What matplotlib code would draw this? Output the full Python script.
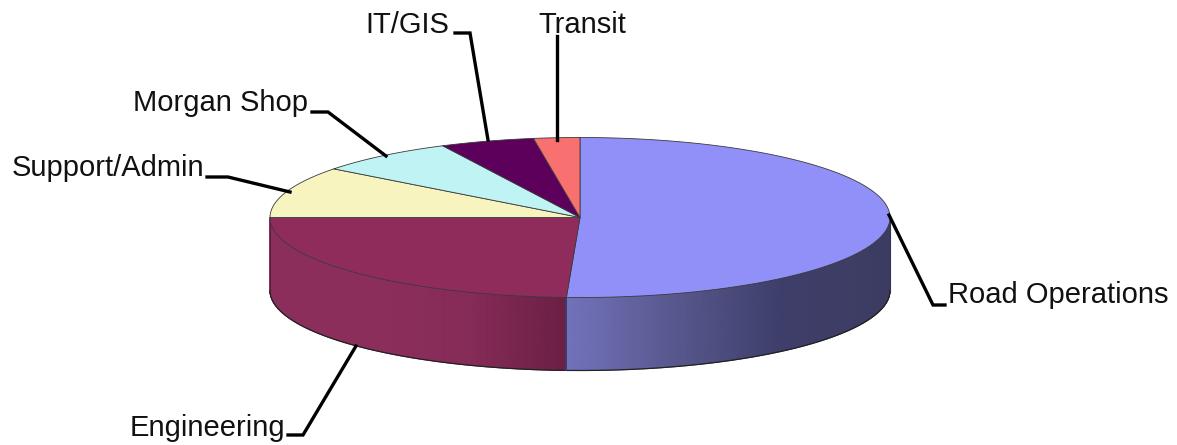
import numpy as np
import matplotlib
matplotlib.use("Agg")
import matplotlib.pyplot as plt
from matplotlib.colors import LinearSegmentedColormap

labels = ["Road Operations", "Engineering", "Support/Admin", "Morgan Shop", "IT/GIS", "Transit"]
values = [50.7, 24.3, 10.4, 7.3, 4.9, 2.4]
top_colors = ["#9090f8", "#902c5c", "#f8f4c0", "#c0f4f4", "#5c005c", "#f87070"]

# pie geometry, in pixels of the picture
cx, cy = 580, 217.5
rx, ry = 310, 80
depth = 73


def ell(deg):
    # degrees clockwise from 12 o'clock
    t = np.radians(deg)
    return cx + rx * np.sin(t), cy - ry * np.cos(t)


fig = plt.figure(figsize=(11.77, 4.45), dpi=100)
ax = fig.add_axes([0, 0, 1, 1])
ax.set_xlim(0, 1177)
ax.set_ylim(445, 0)
ax.axis("off")

edges = np.concatenate([[0], np.cumsum(values)]) / np.sum(values) * 360

# side walls, front half only
wall_maps = {
    0: LinearSegmentedColormap.from_list("w0", ["#7272bc", "#58588e", "#3e3e6a", "#3c3c62"]),
    1: LinearSegmentedColormap.from_list("w1", ["#8c2e5c", "#8c2e5c", "#862c58", "#6c1f44"]),
}
for i, cmap in wall_maps.items():
    a0, a1 = max(edges[i], 90), min(edges[i + 1], 270)
    angs = np.linspace(a0, a1, 200)
    xs, ys = ell(angs)
    f = (xs - xs.min()) / (xs.max() - xs.min())
    X = np.vstack([xs, xs])
    Y = np.vstack([ys, ys + depth])
    C = np.vstack([f, f])
    ax.pcolormesh(X, Y, C, shading="gouraud", cmap=cmap, vmin=0, vmax=1, zorder=2)
    # bottom rim
    ax.plot(xs, ys + depth, color="#222222", lw=0.9, zorder=3)

# seams and outer sides of the wall
x_seam, y_seam = ell(edges[1])
ax.plot([x_seam, x_seam], [y_seam, y_seam + depth], color="#3c3c70", lw=1.4, zorder=3)
ax.plot([cx + rx, cx + rx], [cy, cy + depth], color="#333355", lw=0.8, zorder=3)
ax.plot([cx - rx, cx - rx], [cy, cy + depth], color="#5c1f3f", lw=0.8, zorder=3)

# top face
for i, col in enumerate(top_colors):
    angs = np.linspace(edges[i], edges[i + 1], 200)
    xs, ys = ell(angs)
    ax.fill(np.r_[cx, xs], np.r_[cy, ys], facecolor=col, edgecolor="#3a3a3a", lw=0.6,
            joinstyle="round", zorder=4)

# leader lines and labels
leaders = [
    [(889, 215), (933, 305), (945, 305)],
    [(356, 346), (303, 435), (288, 435)],
    [(207, 177), (228, 177), (290, 192)],
    [(312, 112), (328, 112), (386, 156)],
    [(455, 33), (470, 33), (488, 140)],
    [(557, 36), (557, 140)],
]
label_pos = [(948, 295), (130, 428), (12, 168), (133, 103), (365, 25), (538, 25)]
for name, pts, (tx, ty) in zip(labels, leaders, label_pos):
    px, py = zip(*pts)
    ax.plot(px, py, color="black", lw=2.4, solid_joinstyle="miter", zorder=5)
    ax.text(tx, ty, name, family="Liberation Sans", fontsize=21, color="#111111",
            ha="left", va="center", zorder=6)

fig.savefig("out.png", dpi=100, facecolor="white")
